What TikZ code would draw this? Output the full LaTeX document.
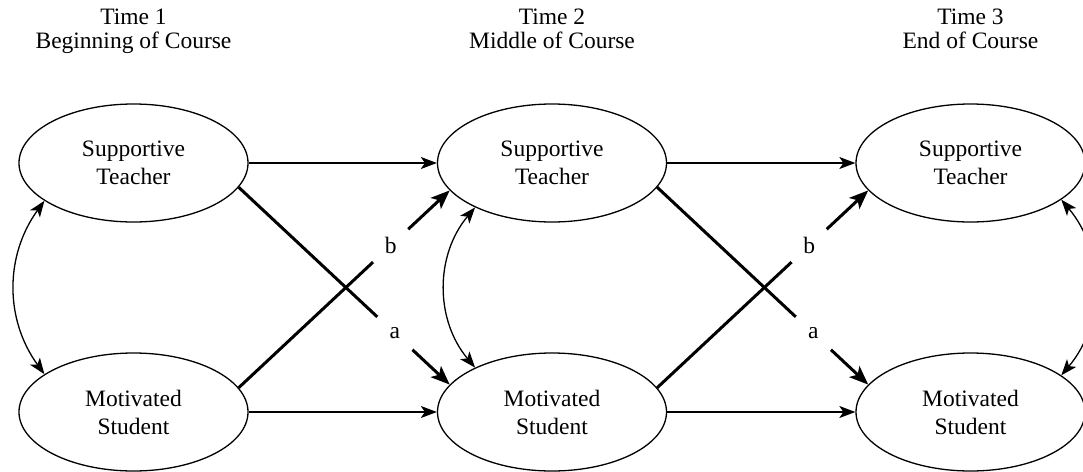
\documentclass[tikz,border=0pt]{standalone}
\usepackage{fontspec}
\setmainfont{Liberation Serif}
\usepackage{tikz}
\usetikzlibrary{shapes}
\usetikzlibrary{arrows.meta}
\tikzset{construct/.style={ellipse, draw, line width=1.3pt, minimum width=229pt, minimum height=118pt, inner sep=0pt, align=center, font=\fontsize{23.5}{28}\selectfont}}
\tikzset{header/.style={anchor=base, inner sep=0pt, font=\fontsize{23.5}{24}\selectfont}}
\tikzset{stable/.style={line width=1.3pt, -{Stealth[length=16pt, width=12pt, inset=4pt]}}}
\tikzset{lagged/.style={line width=3pt, -{Stealth[length=19pt, width=15pt, inset=4.5pt]}}}
\tikzset{covar/.style={line width=1.3pt, {Stealth[length=16pt, width=12pt, inset=4pt]}-{Stealth[length=16pt, width=12pt, inset=4pt]}}}
\tikzset{pathlabel/.style={circle, fill=white, minimum size=48pt, inner sep=0pt, font=\fontsize{23.5}{24}\selectfont}}

\begin{document}
\begin{tikzpicture}[x=1pt,y=-1pt]
  \useasboundingbox (0,0) rectangle (1083,471);
  \foreach \t/\x/\phase in {
    1/133.5/Beginning of Course,
    2/552/Middle of Course,
    3/970.5/End of Course%
  } {
    \node[construct] (st\t) at (\x, 163) {Supportive\\Teacher};
    \node[construct] (ms\t) at (\x, 412) {Motivated\\Student};
    \node[header] (time\t) at (\x, 24) {Time \t};
    \node[header] (phase\t) at (\x, 48) {\phase};
  }
  \foreach \u/\v in {1/2, 2/3} {
    \draw[stable] (st\u) -- (st\v);
    \draw[stable] (ms\u) -- (ms\v);
    \draw[lagged] (st\u.-13) -- node[pathlabel, pos=.74] {a} (ms\v.165);
    \draw[lagged] (ms\u.13) -- node[pathlabel, pos=.72] {b} (st\v.-165);
  }
  \draw[covar] (st1.-157) to[bend right=36] (ms1.157);
  \draw[covar] (st2.-150) to[bend right=40] (ms2.150);
  \draw[covar] (st3.-22) to[bend left=40] (ms3.22);
\end{tikzpicture}
\end{document}
